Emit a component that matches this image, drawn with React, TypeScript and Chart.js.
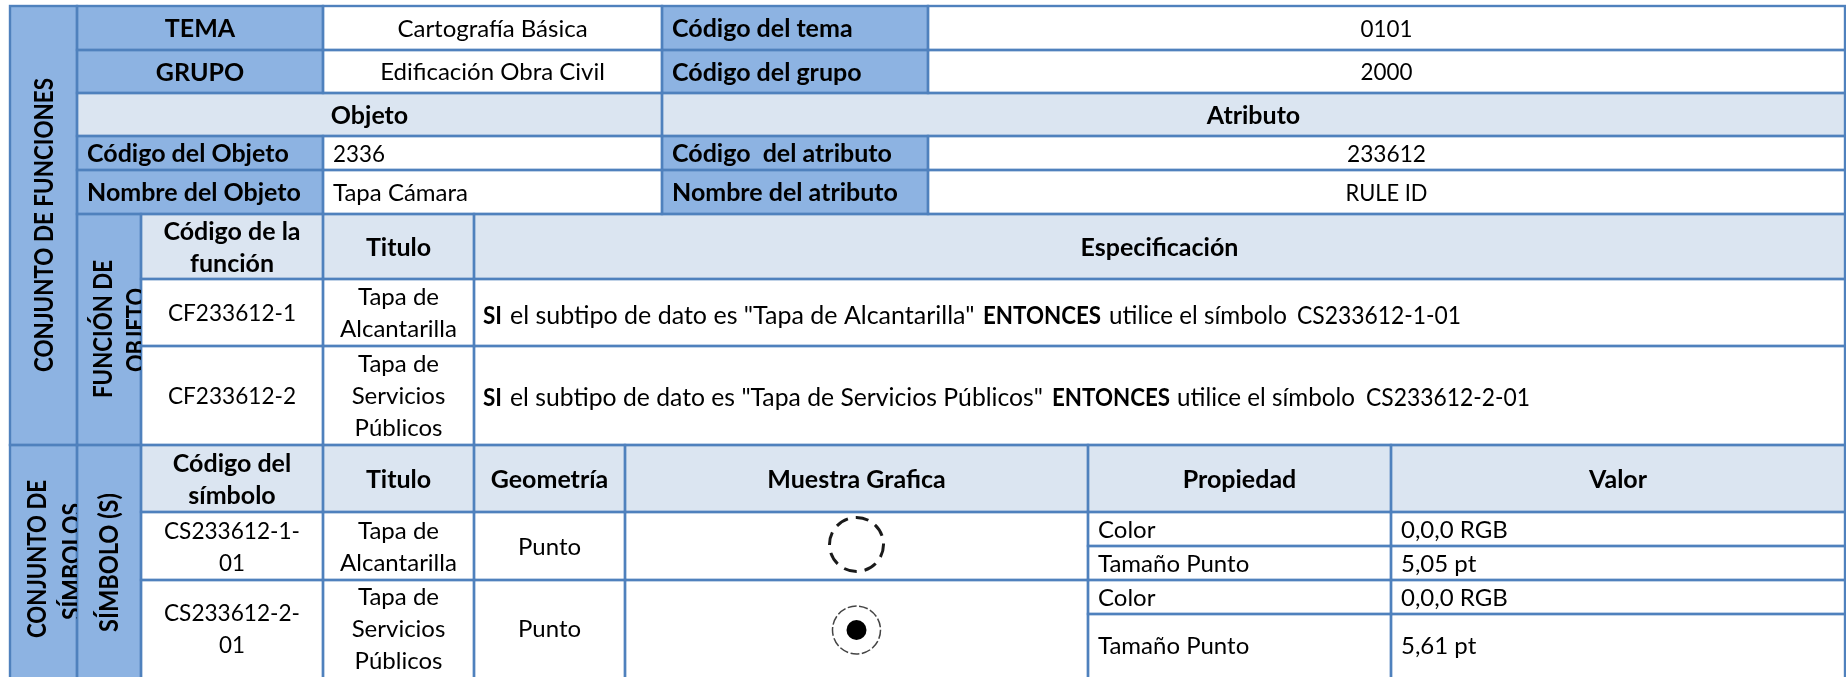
import React, { useEffect, useRef } from "react";
import { Chart, registerables } from "chart.js";

Chart.register(...registerables);

// ---- content ----
const temaRow = ["TEMA", "Cartografía Básica", "Código del tema", "0101"];
const grupoRow = ["GRUPO", "Edificación Obra Civil", "Código del grupo", "2000"];
const sectionRow = ["Objeto", "Atributo"];
const codigoRow = ["Código del Objeto", "2336", "Código  del atributo", "233612"];
const nombreRow = ["Nombre del Objeto", "Tapa Cámara", "Nombre del atributo", "RULE ID"];
const funcHeader = [["Código de la", "función"], ["Titulo"], ["Especificación"]];
const func1 = ["CF233612-1", ["Tapa de", "Alcantarilla"]] as const;
const func2 = ["CF233612-2", ["Tapa de", "Servicios", "Públicos"]] as const;
const spec1 = ["SI", "el subtipo de dato es \"Tapa de Alcantarilla\"", "ENTONCES", "utilice el símbolo", "CS233612-1-01"];
const spec2 = ["SI", "el subtipo de dato es \"Tapa de Servicios Públicos\"", "ENTONCES", "utilice el símbolo", "CS233612-2-01"];
const symHeader = [["Código del", "símbolo"], ["Titulo"], ["Geometría"], ["Muestra Grafica"], ["Propiedad"], ["Valor"]];
const sym1 = [["CS233612-1-", "01"], ["Tapa de", "Alcantarilla"], ["Punto"]];
const sym2 = [["CS233612-2-", "01"], ["Tapa de", "Servicios", "Públicos"], ["Punto"]];
const propNames = ["Color", "Tamaño Punto", "Color", "Tamaño Punto"];
const propValues = ["0,0,0 RGB", "5,05 pt", "0,0,0 RGB", "5,61 pt"];
const sideFunciones = ["CONJUNTO DE FUNCIONES"];
const sideFuncion = ["FUNCIÓN DE", "OBJETO"];
const sideSimbolos = ["CONJUNTO DE", "SÍMBOLOS"];
const sideSimbolo = ["SÍMBOLO (S)"];

// ---- table geometry on the chart's axes ----
const X = { a: 10, b: 77, c: 141, d: 323, e: 474, f: 625, g: 662, h: 928, i: 1088, j: 1391, k: 1845 };
const Y = { a: 6, b: 50, c: 93, d: 136, e: 170, f: 214, g: 279, h: 346, i: 445, j: 512, k: 546, l: 580, m: 614, n: 680 };
const BLUE = "#8DB3E2";
const LIGHT = "#DBE5F1";
const WHITE = "#FFFFFF";
const LINE = "#4F81BD";
const FONT = "Lato";
const REGULAR = 24;
const BOLD = 25;

// Lato's figures run wider than the reference face, so figure-heavy labels are fitted to a width.
const fitted: Record<string, number> = {
  "CF233612-1": 128, "CF233612-2": 128, "CS233612-1-": 136, "CS233612-2-": 136,
  "0101": 52, "2000": 52, "233612": 79, "2336": 52, "01": 26, "RULE ID": 82,
};

type Run = { text: string; bold: boolean; x: number; w: number };
const specRuns = (t: string[], xs: number[], ws: number[]): Run[] =>
  t.map((text, i) => ({ text, bold: i === 0 || i === 2, x: xs[i], w: ws[i] }));
const specLine1 = specRuns(spec1, [483, 510, 983, 1109, 1297], [19, 465, 118, 178, 164]);
const specLine2 = specRuns(spec2, [483, 510, 1052, 1177, 1366], [19, 533, 118, 178, 164]);
const specLines = [{ y: 315, runs: specLine1 }, { y: 397, runs: specLine2 }];

type Cell = {
  x0: number; x1: number; y0: number; y1: number; fill: string;
  lines?: readonly string[]; bold?: boolean; left?: boolean;
};
const cell = (x0: number, x1: number, y0: number, y1: number, fill: string, lines?: readonly string[], bold = false, left = false): Cell =>
  ({ x0, x1, y0, y1, fill, lines, bold, left });

const cells: Cell[] = [
  cell(X.a, X.b, Y.a, Y.i, BLUE), cell(X.a, X.b, Y.i, Y.n, BLUE),
  cell(X.b, X.c, Y.f, Y.i, BLUE), cell(X.b, X.c, Y.i, Y.n, BLUE),
  cell(X.b, X.d, Y.a, Y.b, BLUE, [temaRow[0]], true), cell(X.d, X.g, Y.a, Y.b, WHITE, [temaRow[1]]),
  cell(X.g, X.h, Y.a, Y.b, BLUE, [temaRow[2]], true, true), cell(X.h, X.k, Y.a, Y.b, WHITE, [temaRow[3]]),
  cell(X.b, X.d, Y.b, Y.c, BLUE, [grupoRow[0]], true), cell(X.d, X.g, Y.b, Y.c, WHITE, [grupoRow[1]]),
  cell(X.g, X.h, Y.b, Y.c, BLUE, [grupoRow[2]], true, true), cell(X.h, X.k, Y.b, Y.c, WHITE, [grupoRow[3]]),
  cell(X.b, X.g, Y.c, Y.d, LIGHT, [sectionRow[0]], true), cell(X.g, X.k, Y.c, Y.d, LIGHT, [sectionRow[1]], true),
  cell(X.b, X.d, Y.d, Y.e, BLUE, [codigoRow[0]], true, true), cell(X.d, X.g, Y.d, Y.e, WHITE, [codigoRow[1]], false, true),
  cell(X.g, X.h, Y.d, Y.e, BLUE, [codigoRow[2]], true, true), cell(X.h, X.k, Y.d, Y.e, WHITE, [codigoRow[3]]),
  cell(X.b, X.d, Y.e, Y.f, BLUE, [nombreRow[0]], true, true), cell(X.d, X.g, Y.e, Y.f, WHITE, [nombreRow[1]], false, true),
  cell(X.g, X.h, Y.e, Y.f, BLUE, [nombreRow[2]], true, true), cell(X.h, X.k, Y.e, Y.f, WHITE, [nombreRow[3]]),
  cell(X.c, X.d, Y.f, Y.g, LIGHT, funcHeader[0], true), cell(X.d, X.e, Y.f, Y.g, LIGHT, funcHeader[1], true),
  cell(X.e, X.k, Y.f, Y.g, LIGHT, funcHeader[2], true),
  cell(X.c, X.d, Y.g, Y.h, WHITE, [func1[0]]), cell(X.d, X.e, Y.g, Y.h, WHITE, func1[1]),
  cell(X.e, X.k, Y.g, Y.h, WHITE),
  cell(X.c, X.d, Y.h, Y.i, WHITE, [func2[0]]), cell(X.d, X.e, Y.h, Y.i, WHITE, func2[1]),
  cell(X.e, X.k, Y.h, Y.i, WHITE),
  cell(X.c, X.d, Y.i, Y.j, LIGHT, symHeader[0], true), cell(X.d, X.e, Y.i, Y.j, LIGHT, symHeader[1], true),
  cell(X.e, X.f, Y.i, Y.j, LIGHT, symHeader[2], true), cell(X.f, X.i, Y.i, Y.j, LIGHT, symHeader[3], true),
  cell(X.i, X.j, Y.i, Y.j, LIGHT, symHeader[4], true), cell(X.j, X.k, Y.i, Y.j, LIGHT, symHeader[5], true),
  cell(X.c, X.d, Y.j, Y.l, WHITE, sym1[0]), cell(X.d, X.e, Y.j, Y.l, WHITE, sym1[1]), cell(X.e, X.f, Y.j, Y.l, WHITE, sym1[2]),
  cell(X.f, X.i, Y.j, Y.l, WHITE),
  cell(X.c, X.d, Y.l, Y.n, WHITE, sym2[0]), cell(X.d, X.e, Y.l, Y.n, WHITE, sym2[1]), cell(X.e, X.f, Y.l, Y.n, WHITE, sym2[2]),
  cell(X.f, X.i, Y.l, Y.n, WHITE),
  cell(X.i, X.j, Y.j, Y.k, WHITE, [propNames[0]], false, true), cell(X.j, X.k, Y.j, Y.k, WHITE, [propValues[0]], false, true),
  cell(X.i, X.j, Y.k, Y.l, WHITE, [propNames[1]], false, true), cell(X.j, X.k, Y.k, Y.l, WHITE, [propValues[1]], false, true),
  cell(X.i, X.j, Y.l, Y.m, WHITE, [propNames[2]], false, true), cell(X.j, X.k, Y.l, Y.m, WHITE, [propValues[2]], false, true),
  cell(X.i, X.j, Y.m, Y.n, WHITE, [propNames[3]], false, true), cell(X.j, X.k, Y.m, Y.n, WHITE, [propValues[3]], false, true),
];

type Side = { x0: number; x1: number; y0: number; y1: number; lines: string[]; cx: number[]; cy: number[]; len: number[] };
const sides: Side[] = [
  { x0: X.a, x1: X.b, y0: Y.a, y1: Y.i, lines: sideFunciones, cx: [45], cy: [225], len: [294] },
  { x0: X.b, x1: X.c, y0: Y.f, y1: Y.i, lines: sideFuncion, cx: [104, 137], cy: [329, 330], len: [138, 84] },
  { x0: X.a, x1: X.b, y0: Y.i, y1: Y.n, lines: sideSimbolos, cx: [38, 73], cy: [559, 561.5], len: [158, 117] },
  { x0: X.b, x1: X.c, y0: Y.i, y1: Y.n, lines: sideSimbolo, cx: [110], cy: [562.5], len: [139] },
];

// Marks on the chart's axes: outer ring of symbol 1, inner dot of symbol 2, outer ring of symbol 2.
const markCenters = [{ x: 856.5, y: 544.5 }, { x: 856.5, y: 630 }, { x: 856.5, y: 630 }];
const markRadii = [0, 10, 0];

const tablePlugin = {
  id: "tablePlugin",
  beforeDatasetsDraw(chart: any) {
    const { ctx, scales } = chart;
    const px = (v: number) => scales.x.getPixelForValue(v);
    const py = (v: number) => scales.y.getPixelForValue(v);
    ctx.save();
    ctx.fillStyle = WHITE;
    ctx.fillRect(0, 0, chart.width, chart.height);

    for (const c of cells) {
      ctx.fillStyle = c.fill;
      ctx.fillRect(px(c.x0), py(c.y0), px(c.x1) - px(c.x0), py(c.y1) - py(c.y0));
    }
    ctx.strokeStyle = LINE;
    ctx.lineWidth = 2.4;
    for (const c of cells) {
      ctx.strokeRect(px(c.x0), py(c.y0), px(c.x1) - px(c.x0), py(c.y1) - py(c.y0));
    }

    ctx.fillStyle = "#000000";
    ctx.textBaseline = "middle";
    const lh = 32;
    for (const c of cells) {
      if (!c.lines) continue;
      const cy = (py(c.y0) + py(Math.min(c.y1, 677))) / 2 + 1;
      ctx.font = c.bold ? `bold ${BOLD}px ${FONT}` : `${REGULAR}px ${FONT}`;
      ctx.textAlign = c.left ? "left" : "center";
      const x = c.left ? px(c.x0) + 10 : (px(c.x0) + px(c.x1)) / 2;
      c.lines.forEach((line, i) => {
        const y = cy + (i - (c.lines!.length - 1) / 2) * lh;
        const w = fitted[line];
        if (w) ctx.fillText(line, x, y, w);
        else ctx.fillText(line, x, y);
      });
    }

    ctx.textAlign = "left";
    for (const line of specLines) {
      for (const r of line.runs) {
        ctx.font = `${r.bold ? "bold " : ""}${BOLD}px ${FONT}`;
        ctx.fillText(r.text, px(r.x), py(line.y) + 1, r.w);
      }
    }

    for (const s of sides) {
      ctx.save();
      ctx.beginPath();
      ctx.rect(px(s.x0), py(s.y0), px(s.x1) - px(s.x0), py(s.y1) - py(s.y0));
      ctx.clip();
      s.lines.forEach((line, i) => {
        ctx.save();
        ctx.translate(px(s.cx[i]), py(s.cy[i]));
        ctx.rotate(-Math.PI / 2);
        ctx.font = `bold 26px ${FONT}`;
        ctx.textAlign = "center";
        ctx.textBaseline = "middle";
        ctx.fillText(line, 0, 0, s.len[i]);
        ctx.restore();
      });
      ctx.restore();
    }
    ctx.restore();
  },
  afterDatasetsDraw(chart: any) {
    const { ctx } = chart;
    const meta = chart.getDatasetMeta(0);
    const rings = [
      { i: 0, r: 27, w: 3, dash: [13, 8], color: "#1a1a1a" },
      { i: 2, r: 24, w: 1.5, dash: [9, 2.5], color: "#444444" },
    ];
    ctx.save();
    for (const ring of rings) {
      const pt = meta.data[ring.i];
      ctx.beginPath();
      ctx.strokeStyle = ring.color;
      ctx.lineWidth = ring.w;
      ctx.setLineDash(ring.dash);
      ctx.arc(pt.x, pt.y, ring.r, 0, Math.PI * 2);
      ctx.stroke();
    }
    ctx.restore();
  },
};

export default function App() {
  const ref = useRef<HTMLCanvasElement>(null);
  useEffect(() => {
    document.body.style.margin = "0";
    const chart = new Chart(ref.current!, {
      type: "line",
      data: {
        datasets: [
          { data: markCenters, showLine: false, pointRadius: markRadii, backgroundColor: "#000000", borderWidth: 0, pointBorderWidth: 0, pointHoverRadius: 0 },
        ],
      },
      options: {
        animation: false,
        responsive: false,
        layout: { padding: 0 },
        plugins: { legend: { display: false }, tooltip: { enabled: false } },
        scales: {
          x: { type: "linear", min: 0, max: 1846, display: false },
          y: { type: "linear", min: 0, max: 677, reverse: true, display: false },
        },
      },
      plugins: [tablePlugin],
    } as any);
    return () => chart.destroy();
  }, []);
  return <canvas ref={ref} width={1846} height={677} style={{ display: "block" }} />;
}
